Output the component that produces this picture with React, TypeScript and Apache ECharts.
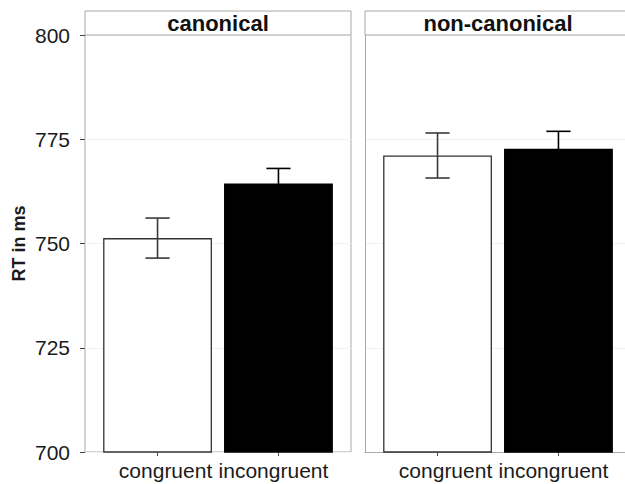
import React, { useEffect, useRef } from "react";
import * as echarts from "echarts";

const panels = ["canonical", "non-canonical"];
const conditions = ["congruent", "incongruent"];
const conditionPositions = [1, 2];
const canonicalMeans = [751.3, 764.4];
const canonicalErrors = [4.8, 3.6];
const nonCanonicalMeans = [771.1, 772.7];
const nonCanonicalErrors = [5.4, 4.2];
const barFills = ["#ffffff", "#000000"];
const yMin = 700;
const yMax = 800;
const yStep = 25;

const FONT = "'Liberation Sans', Arial, Helvetica, sans-serif";
const BORDER = "#a8a8a8";

export default function App() {
  const ref = useRef<HTMLDivElement>(null);

  useEffect(() => {
    if (!ref.current) return;
    const chart = echarts.init(ref.current, undefined, { renderer: "svg" });

    const gridLefts = [85, 365];
    const gridTop = 35;
    const gridW = 266;
    const gridH = 417;
    const xMin = 0.4;
    const xMax = 2.6;
    const unitPx = gridW / (xMax - xMin);
    const barWidth = 0.9 * unitPx;

    const meansByPanel = [canonicalMeans, nonCanonicalMeans];
    const errsByPanel = [canonicalErrors, nonCanonicalErrors];

    // the right panel runs past the picture's right edge, so it gets no right border
    const grids = gridLefts.map((l, i) => ({
      left: l,
      top: gridTop,
      width: gridW,
      height: gridH,
      show: i === 0,
      borderColor: BORDER,
      borderWidth: 1,
      backgroundColor: "#ffffff",
    }));

    const xAxes = gridLefts.map((_, i) => ({
      type: "value",
      gridIndex: i,
      min: xMin,
      max: xMax,
      axisLine: { show: i === 1, onZero: false, lineStyle: { color: BORDER, width: 1 } },
      splitLine: { show: false },
      axisTick: {
        show: true,
        customValues: conditionPositions,
        length: 4,
        lineStyle: { color: "#555", width: 1 },
      },
      axisLabel: {
        show: true,
        customValues: conditionPositions,
        margin: 8,
        formatter: (v: number) => {
          const idx = conditionPositions.indexOf(Math.round(v));
          return idx === 0 ? `{a|${conditions[0]}}` : `{b|${conditions[1]}}`;
        },
        rich: {
          a: { fontSize: 21, fontFamily: FONT, color: "#1a1a1a", padding: [0, 0, 0, 16] },
          b: { fontSize: 21, fontFamily: FONT, color: "#1a1a1a", padding: [0, 10, 0, 0] },
        },
      },
    }));

    const yAxes = gridLefts.map((_, i) => ({
      type: "value",
      gridIndex: i,
      min: yMin,
      max: yMax,
      interval: yStep,
      name: i === 0 ? "RT in ms" : "",
      nameLocation: "middle",
      nameGap: 57,
      nameTextStyle: { fontSize: 18, fontWeight: "bold", fontFamily: FONT, color: "#1a1a1a" },
      axisLine: { show: i === 1, onZero: false, lineStyle: { color: BORDER, width: 1 } },
      axisTick: {
        show: i === 0,
        length: 5,
        lineStyle: { color: "#444", width: 1 },
      },
      axisLabel: {
        show: i === 0,
        fontSize: 21,
        fontFamily: FONT,
        color: "#1a1a1a",
        margin: 15,
      },
      splitLine: { show: true, lineStyle: { color: "#f1f1f1", width: 1 } },
    }));

    const barSeries = meansByPanel.map((means, p) => ({
      type: "bar",
      xAxisIndex: p,
      yAxisIndex: p,
      barWidth,
      clip: true,
      z: 2,
      data: means.map((m, i) => ({
        value: [conditionPositions[i], m],
        itemStyle: {
          color: barFills[i],
          borderColor: barFills[i] === "#000000" ? "#000000" : "#333333",
          borderWidth: 1.3,
        },
      })),
    }));

    const errSeries = meansByPanel.map((means, p) => ({
      type: "custom",
      xAxisIndex: p,
      yAxisIndex: p,
      z: 5,
      encode: { x: 0, y: [1, 2] },
      data: means.map((m, i) => [conditionPositions[i], m - errsByPanel[p][i], m + errsByPanel[p][i], i]),
      renderItem: (params: any, api: any) => {
        const x = api.value(0);
        const lo = api.value(1);
        const hi = api.value(2);
        const idx = api.value(3);
        const top = api.coord([x, hi]);
        const bot = api.coord([x, lo]);
        const half = api.size([0.2, 0])[0] / 2;
        const stroke = barFills[idx] === "#000000" ? "#000000" : "#3a3a3a";
        const style = { stroke, lineWidth: 1.6, fill: "none" };
        return {
          type: "group",
          children: [
            { type: "line", shape: { x1: top[0], y1: top[1], x2: bot[0], y2: bot[1] }, style },
            { type: "line", shape: { x1: top[0] - half, y1: top[1], x2: top[0] + half, y2: top[1] }, style },
            { type: "line", shape: { x1: bot[0] - half, y1: bot[1], x2: bot[0] + half, y2: bot[1] }, style },
          ],
        };
      },
    }));

    const stripGraphics: any[] = [];
    gridLefts.forEach((l, i) => {
      stripGraphics.push({
        type: "rect",
        shape: { x: l, y: 11, width: i === 0 ? gridW : gridW + 100, height: 24 },
        style: { fill: "#ffffff", stroke: BORDER, lineWidth: 1 },
        z: 10,
      });
      stripGraphics.push({
        type: "text",
        x: l + gridW / 2,
        y: 23,
        style: {
          text: panels[i],
          fontSize: 22,
          fontWeight: "bold",
          fontFamily: FONT,
          fill: "#111111",
          align: "center",
          verticalAlign: "middle",
        },
        z: 11,
      });
    });

    chart.setOption({
      animation: false,
      backgroundColor: "#ffffff",
      grid: grids,
      xAxis: xAxes,
      yAxis: yAxes,
      series: [...barSeries, ...errSeries],
      graphic: stripGraphics,
    });

    return () => chart.dispose();
  }, []);

  return (
    <div
      style={{
        position: "fixed",
        left: 0,
        top: 0,
        width: 625,
        height: 484,
        overflow: "hidden",
        background: "#ffffff",
      }}
    >
      <div ref={ref} style={{ width: 760, height: 484 }} />
    </div>
  );
}
